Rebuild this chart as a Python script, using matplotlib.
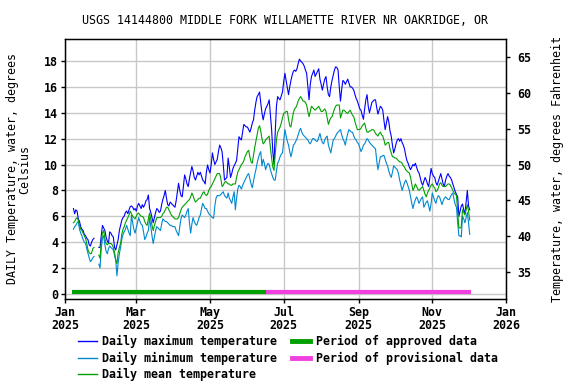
import numpy as np
import pandas as pd
import matplotlib
matplotlib.use('Agg')
import matplotlib.pyplot as plt
from matplotlib.lines import Line2D

plt.rcParams['font.family'] = 'DejaVu Sans Mono'
plt.rcParams['font.weight'] = 'bold'
plt.rcParams['font.size'] = 8.4

nan = np.nan

# daily values, 2025-01-08 .. 2025-12-02 (deg C), gap at end of January
dates = pd.date_range('2025-01-08', '2025-12-02', freq='D')

t_max = [
    6.6, 6.2, 6.5, 6.4, 5.8, 5.6, 5.2, 5.0, 4.9, 4.6,
    4.5, 4.3, 4.2, 3.8, 3.7, 4.0, 4.2, 4.3, nan, nan,
    nan, 3.6, 3.6, 4.5, 5.3, 5.1, 4.9, 4.4, 4.1, 3.9,
    4.8, 4.7, 4.5, 4.4, 3.6, 3.4, 3.8, 4.2, 4.9, 5.3,
    5.7, 5.9, 6.0, 6.3, 6.4, 6.2, 6.5, 6.75, 6.8, 6.7,
    6.5, 6.6, 6.4, 6.8, 7.0, 6.8, 6.6, 6.9, 6.7, 6.9,
    7.2, 7.3, 7.65, 6.6, 6.3, 5.9, 5.5, 5.9, 6.3, 6.6,
    6.5, 6.3, 6.4, 6.9, 7.3, 7.6, 8.0, 7.4, 6.9, 6.8,
    7.1, 7.0, 6.9, 6.8, 6.7, 7.2, 7.9, 8.55, 8.0, 7.6,
    7.5, 8.3, 9.2, 8.9, 8.5, 8.3, 8.9, 9.4, 9.85, 9.5,
    9.0, 8.8, 9.1, 9.4, 9.2, 9.4, 9.1, 8.8, 8.7, 8.5,
    9.4, 9.97, 9.6, 9.35, 10.0, 10.9, 10.4, 10.0, 10.2, 10.4,
    11.0, 11.5, 11.3, 11.0, 10.0, 8.8, 8.9, 9.0, 10.5, 9.8,
    9.0, 9.3, 9.7, 9.9, 10.1, 10.3, 11.2, 12.15, 12.0, 11.9,
    12.5, 13.1, 13.0, 12.9, 12.9, 12.7, 12.5, 12.8, 13.2, 13.45,
    14.2, 14.8, 15.25, 15.4, 15.6, 14.8, 14.0, 13.45, 13.9, 14.3,
    14.5, 14.7, 15.0, 13.8, 12.7, 11.0, 10.0, 12.5, 14.5, 15.25,
    15.1, 15.0, 15.3, 15.6, 16.4, 17.05, 16.5, 15.9, 15.4, 16.0,
    16.5, 16.9, 17.2, 17.3, 17.2, 17.4, 17.8, 18.15, 18.0, 17.9,
    17.8, 17.6, 17.3, 17.05, 16.0, 15.0, 16.2, 16.8, 17.05, 17.3,
    16.8, 17.0, 17.2, 17.4, 16.6, 16.2, 15.75, 16.2, 16.6, 16.8,
    16.0, 15.4, 15.25, 16.0, 16.5, 16.9, 17.3, 17.55, 17.5, 17.3,
    16.0, 14.9, 15.8, 16.5, 16.4, 16.2, 16.4, 16.6, 16.3, 16.0,
    16.0, 15.9, 15.75, 15.4, 15.1, 14.9, 14.6, 14.3, 14.2, 13.8,
    13.5, 14.3, 15.0, 15.4, 14.5, 14.0, 14.4, 14.8, 14.9, 15.0,
    15.0, 14.4, 13.9, 14.2, 14.5, 14.4, 14.2, 13.4, 12.7, 13.2,
    13.7, 13.3, 12.6, 12.2, 11.5, 10.9, 11.2, 11.6, 11.9, 12.0,
    11.8, 12.0, 11.7, 11.5, 11.2, 10.7, 10.3, 10.1, 9.8, 9.6,
    9.8, 10.0, 9.9, 10.1, 9.8, 9.5, 9.35, 9.0, 8.6, 8.4,
    8.7, 9.0, 8.8, 8.5, 8.3, 9.0, 9.7, 9.3, 9.1, 9.0,
    8.6, 8.4, 8.7, 9.0, 9.3, 8.9, 8.5, 8.3, 8.8, 9.1,
    9.3, 9.1, 9.0, 8.8, 8.5, 8.2, 7.9, 7.7, 7.5, 6.0,
    6.4, 6.8, 6.95, 6.5, 6.2, 7.1, 8.0, 6.8, 6.5,
]

t_min = [
    5.0, 5.2, 5.3, 5.5, 5.6, 5.0, 4.7, 4.5, 4.2, 4.0,
    3.9, 3.5, 3.15, 2.8, 2.5, 2.6, 2.8, 2.9, nan, nan,
    nan, 2.3, 2.0, 3.5, 4.3, 4.5, 3.8, 3.3, 3.1, 3.5,
    3.7, 3.6, 3.5, 3.4, 3.0, 2.6, 1.4, 2.4, 3.1, 3.6,
    4.2, 4.6, 4.8, 5.0, 5.3, 5.0, 4.7, 4.5, 6.1, 5.5,
    5.0, 4.7, 5.1, 5.5, 5.9, 5.6, 5.4, 5.3, 4.8, 4.2,
    4.4, 4.7, 4.9, 5.9, 5.2, 4.5, 3.9, 4.4, 4.9, 5.2,
    5.1, 5.0, 4.9, 5.4, 5.8, 5.7, 5.6, 5.6, 5.5, 5.4,
    5.3, 5.3, 5.2, 5.2, 5.2, 4.9, 4.7, 4.5, 5.2, 5.8,
    6.1, 6.0, 5.9, 6.1, 6.4, 6.6, 5.5, 4.7, 5.4, 5.9,
    5.6, 5.4, 5.3, 5.6, 5.9, 6.1, 6.6, 7.0, 6.8, 6.6,
    6.6, 6.4, 6.2, 6.1, 6.0, 5.9, 5.85, 6.8, 7.4, 7.6,
    7.6, 7.6, 7.7, 7.8, 7.9, 7.6, 7.5, 7.4, 7.8, 7.4,
    7.2, 7.0, 7.5, 7.9, 6.5, 7.4, 8.1, 8.4, 8.3, 8.1,
    8.4, 8.6, 8.8, 9.0, 9.2, 9.3, 8.9, 8.5, 8.2, 8.7,
    9.2, 9.6, 10.1, 10.5, 10.8, 11.0, 9.9, 10.4, 10.1, 9.6,
    9.9, 10.1, 10.0, 9.6, 9.3, 9.0, 8.8, 8.8, 9.5, 10.1,
    10.3, 10.6, 10.8, 10.9, 11.8, 12.7, 12.2, 11.8, 11.5, 11.0,
    10.6, 11.0, 11.5, 11.6, 11.8, 12.0, 12.3, 12.6, 12.8, 12.5,
    12.3, 12.2, 12.1, 12.0, 11.9, 11.7, 11.6, 11.8, 12.0, 12.0,
    11.9, 11.8, 11.8, 12.1, 12.4, 12.0, 11.7, 11.6, 11.9, 12.1,
    12.2, 11.5, 11.2, 10.9, 11.4, 11.9, 12.0, 12.2, 12.4, 12.5,
    12.6, 12.7, 12.3, 12.0, 11.8, 11.5, 12.0, 12.4, 12.7, 12.6,
    12.5, 12.5, 12.2, 12.0, 11.9, 11.7, 11.6, 11.3, 11.0, 11.2,
    11.5, 11.6, 11.8, 12.0, 11.9, 11.7, 11.6, 11.5, 11.4, 11.3,
    11.2, 10.3, 9.6, 10.1, 10.6, 10.6, 10.7, 10.7, 10.4, 10.1,
    9.9, 9.5, 9.2, 9.0, 9.4, 9.9, 9.8, 9.7, 9.6, 9.3,
    8.8, 8.4, 8.0, 8.3, 8.6, 8.8, 8.6, 8.3, 8.0, 7.5,
    7.0, 6.6, 7.0, 7.3, 7.5, 7.3, 7.0, 7.2, 7.4, 7.5,
    6.7, 6.9, 7.1, 7.2, 6.8, 6.4, 7.0, 7.8, 7.5, 7.2,
    7.0, 7.4, 7.6, 7.5, 7.2, 6.9, 7.2, 7.4, 7.5, 7.4,
    7.3, 7.3, 7.5, 7.7, 7.8, 7.3, 6.9, 6.7, 5.5, 4.5,
    4.5, 4.4, 6.0, 5.8, 5.5, 5.9, 6.3, 5.5, 4.6,
]

t_mean = [
    5.5, 5.6, 5.8, 5.9, 5.7, 5.3, 5.0, 4.9, 4.7, 4.5,
    4.3, 3.9, 3.4, 3.2, 3.1, 3.15, 3.5, 3.6, nan, nan,
    nan, 3.0, 2.75, 4.0, 4.7, 4.9, 4.3, 3.9, 3.8, 3.9,
    3.9, 3.9, 3.8, 3.6, 3.2, 2.6, 2.35, 3.2, 3.6, 3.9,
    4.6, 5.0, 5.2, 5.5, 5.7, 5.9, 6.1, 6.4, 6.2, 6.0,
    5.9, 5.8, 6.0, 6.2, 6.25, 6.1, 6.0, 6.0, 5.9, 5.6,
    5.4, 5.3, 5.8, 6.25, 5.8, 5.3, 4.9, 5.3, 5.6, 5.9,
    5.9, 5.9, 5.9, 6.0, 6.2, 6.3, 6.5, 6.7, 6.7, 6.5,
    6.3, 6.1, 6.0, 5.9, 5.8, 5.8, 5.8, 5.9, 6.2, 6.5,
    6.7, 6.8, 6.9, 7.0, 7.1, 7.2, 7.3, 7.5, 7.8, 7.6,
    7.3, 7.1, 7.2, 7.3, 7.4, 7.4, 7.6, 7.8, 7.9, 7.7,
    7.6, 7.7, 8.0, 8.2, 8.3, 8.5, 8.7, 8.9, 9.1, 9.3,
    9.3, 9.3, 8.9, 8.3, 8.4, 8.6, 8.7, 8.6, 8.5, 8.5,
    8.4, 8.4, 8.5, 8.5, 8.5, 9.0, 9.4, 9.6, 9.8, 10.0,
    10.1, 10.3, 10.6, 10.8, 11.0, 11.1, 10.6, 10.2, 10.1, 10.7,
    11.3, 11.8, 12.3, 12.8, 13.0, 12.6, 12.0, 11.6, 11.7, 11.9,
    12.0, 12.1, 12.2, 11.3, 10.5, 9.8, 9.55, 10.8, 11.9, 12.5,
    12.7, 12.9, 13.2, 13.6, 13.95, 14.0, 14.1, 14.1, 13.5, 13.0,
    12.9, 13.5, 14.0, 14.3, 14.4, 14.6, 14.9, 15.1, 15.25, 15.1,
    14.9, 14.9, 14.8, 14.6, 14.1, 13.7, 14.1, 14.5, 14.4, 14.3,
    14.2, 14.3, 14.4, 14.5, 14.3, 14.1, 14.1, 14.2, 14.3, 14.1,
    13.6, 13.1, 13.4, 13.6, 13.7, 14.0, 14.3, 14.5, 14.6, 14.6,
    14.6, 13.6, 13.9, 14.2, 14.2, 14.1, 14.0, 13.95, 14.1, 14.2,
    14.0, 13.8, 13.7, 13.3, 13.0, 12.7, 12.7, 12.7, 12.8, 13.0,
    13.1, 13.2, 12.8, 12.5, 12.5, 12.6, 12.6, 12.7, 12.7, 12.6,
    12.4, 12.3, 12.2, 12.4, 12.5, 12.3, 12.2, 11.9, 11.5, 11.6,
    11.7, 11.7, 11.2, 10.9, 10.6, 10.6, 10.5, 10.5, 10.4, 10.3,
    10.2, 10.2, 10.1, 9.9, 9.8, 9.6, 9.5, 9.4, 9.35, 9.0,
    8.5, 8.0, 8.2, 8.5, 8.3, 8.1, 8.0, 8.1, 8.2, 8.3,
    8.0, 7.7, 7.5, 7.8, 8.0, 8.2, 8.4, 8.5, 8.3, 8.2,
    7.9, 8.0, 8.2, 8.5, 8.6, 8.4, 8.3, 8.3, 8.3, 8.4,
    8.5, 8.5, 8.4, 8.2, 8.0, 7.8, 7.7, 7.6, 6.4, 5.1,
    5.1, 5.2, 6.5, 6.3, 6.1, 6.5, 6.9, 6.4, 5.7,
]

# approval periods
approved = ['2025-01-07', '2025-06-16']
provisional = ['2025-06-16', '2025-12-03']

month_ticks = ['2025-01-01', '2025-03-01', '2025-05-01', '2025-07-01',
               '2025-09-01', '2025-11-01', '2026-01-01']
month_labels = ['Jan\n2025', 'Mar\n2025', 'May\n2025', 'Jul\n2025',
                'Sep\n2025', 'Nov\n2025', 'Jan\n2026']

c_max = '#0000FF'
c_min = '#0088D0'
c_mean = '#00A000'
c_appr = '#00A000'
c_prov = '#F040E0'

fig = plt.figure(figsize=(5.76, 3.84), dpi=100)
ax = fig.add_axes([65 / 576, 85 / 384, 441 / 576, 260 / 384])

ax.plot(dates, t_max, color=c_max, lw=0.8)
ax.plot(dates, t_min, color=c_min, lw=0.8)
ax.plot(dates, t_mean, color=c_mean, lw=0.8)

bar_y = 0.15
ax.plot(pd.to_datetime(approved), [bar_y, bar_y], color=c_appr, lw=3,
        solid_capstyle='butt')
ax.plot(pd.to_datetime(provisional), [bar_y, bar_y], color=c_prov, lw=3,
        solid_capstyle='butt')

ax.set_xlim(pd.Timestamp('2025-01-01'), pd.Timestamp('2026-01-01'))
ax.set_ylim(-0.39, 19.7)
ax.set_yticks(range(0, 19, 2))
ax.set_xticks(pd.to_datetime(month_ticks))
ax.set_xticklabels(month_labels, linespacing=1.05)
ax.grid(True, color='#C8C8C8', lw=1)
ax.set_axisbelow(True)
ax.tick_params(length=3, width=1, pad=2)
ax.tick_params(axis='x', pad=2)
for s in ax.spines.values():
    s.set_linewidth(1)

ax.set_ylabel('DAILY Temperature, water, degrees\nCelsius', labelpad=9,
              linespacing=1.0)
ax.set_title('USGS 14144800 MIDDLE FORK WILLAMETTE RIVER NR OAKRIDGE, OR',
             fontsize=8.4, pad=11)

ax2 = ax.twinx()
lo, hi = ax.get_ylim()
ax2.set_ylim(lo * 1.8 + 32, hi * 1.8 + 32)
ax2.set_yticks(range(35, 66, 5))
ax2.tick_params(length=3, width=1, pad=5)
ax2.set_ylabel('Temperature, water, degrees Fahrenheit', labelpad=14)

handles = [
    Line2D([], [], color=c_max, lw=1),
    Line2D([], [], color=c_min, lw=1),
    Line2D([], [], color=c_mean, lw=1),
    Line2D([], [], color=c_appr, lw=3.5),
    Line2D([], [], color=c_prov, lw=3.5),
]
labels = ['Daily maximum temperature', 'Daily minimum temperature',
          'Daily mean temperature', 'Period of approved data',
          'Period of provisional data']
fig.legend(handles, labels, ncol=2, loc='upper left',
           bbox_to_anchor=(78 / 576, 1 - 335 / 384), frameon=False,
           borderpad=0, borderaxespad=0, handlelength=1.6,
           handletextpad=0.5, columnspacing=1.2, labelspacing=0.3)

fig.savefig('out.png', dpi=100)
